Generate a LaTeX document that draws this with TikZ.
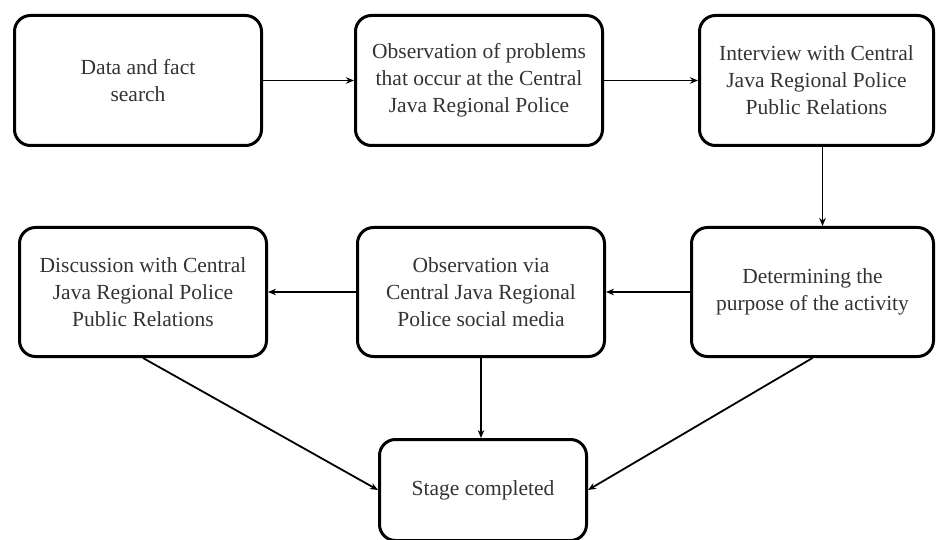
\documentclass[tikz,border=0pt]{standalone}
\usepackage{fontspec}
\setmainfont{Liberation Serif}
\usetikzlibrary{arrows.meta, positioning}

\begin{document}
\begin{tikzpicture}[x=1pt,y=-1pt,
  stage/.style={draw, line width=3pt, rounded corners=16pt, align=center,
    text=black!80, inner sep=0pt, font=\fontsize{21.5}{27}\selectfont},
  flow/.style={-{Stealth[length=8pt,width=6.5pt]}, line width=1.8pt}]
\useasboundingbox (0,0) rectangle (937,540);
% First row
\node[stage, minimum width=247pt, minimum height=130pt] (search) at (138,80.5) {Data and fact\\search};
\node[stage, minimum width=247pt, minimum height=130pt] (problems) at (479,80.5) {Observation of problems\\that occur at the Central\\Java Regional Police};
\node[stage, minimum width=234pt, minimum height=130pt] (interview) at (816.5,80.5) {Interview with Central\\Java Regional Police\\Public Relations};
% Second row
\node[stage, minimum width=247pt, minimum height=129pt] (discuss) at (143,292) {Discussion with Central\\Java Regional Police\\Public Relations};
\node[stage, minimum width=247pt, minimum height=129pt] (socmed) at (481,292) {Observation via\\Central Java Regional\\Police social media};
\node[stage, minimum width=242pt, minimum height=129pt] (purpose) at (812.5,292) {Determining the\\purpose of the activity};
% Last stage
\node[stage, minimum width=207pt, minimum height=101pt] (done) at (483,490) {Stage completed};
% Arrows
\draw[flow] (search) -- (problems);
\draw[flow] (problems) -- (interview);
\draw[flow] ([xshift=6pt]interview.south) -- ([xshift=6pt]interview.south |- purpose.north);
\draw[flow] (purpose) -- (socmed);
\draw[flow] (socmed) -- (discuss);
\draw[flow] (socmed.south) -- (socmed.south |- done.north);
\draw[flow] (discuss.south) -- (done.west);
\draw[flow] (purpose.south) -- (done.east);
\end{tikzpicture}
\end{document}
